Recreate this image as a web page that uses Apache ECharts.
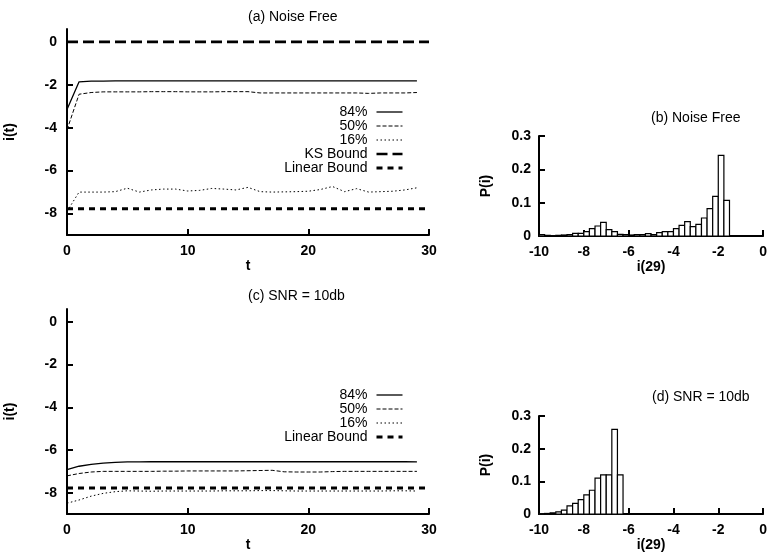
<!DOCTYPE html>
<html>
<head>
<meta charset="utf-8">
<script src="https://cdn.jsdelivr.net/npm/echarts@6/dist/echarts.min.js"></script>
<style>html,body{margin:0;padding:0;background:#fff}#c{width:770px;height:553px}</style>
</head>
<body>
<div id="c"></div>
<script>
// time steps
var t = [0,1,2,3,4,5,6,7,8,9,10,11,12,13,14,15,16,17,18,19,20,21,22,23,24,25,26,27,28,29];
var tBound = [0, 30];

// (a) Noise Free
var a84 = [-3.15,-1.86,-1.83,-1.83,-1.82,-1.82,-1.82,-1.82,-1.82,-1.82,-1.82,-1.82,-1.82,-1.82,-1.82,-1.82,-1.82,-1.82,-1.82,-1.82,-1.82,-1.82,-1.82,-1.82,-1.82,-1.82,-1.82,-1.82,-1.82,-1.82];
var a50 = [-4.1,-2.44,-2.36,-2.33,-2.33,-2.33,-2.33,-2.32,-2.32,-2.32,-2.33,-2.33,-2.33,-2.32,-2.32,-2.32,-2.38,-2.38,-2.38,-2.38,-2.38,-2.38,-2.38,-2.38,-2.38,-2.4,-2.38,-2.38,-2.38,-2.36];
var a16 = [-7.9,-7.0,-7.0,-7.0,-6.98,-6.82,-7.0,-6.9,-6.86,-6.86,-6.95,-6.92,-6.83,-6.86,-6.9,-6.78,-6.98,-7.0,-6.99,-6.98,-6.96,-6.88,-6.74,-6.98,-6.84,-7.0,-6.98,-6.96,-6.9,-6.8];
var aKS = [0, 0];
var aLin = [-7.78, -7.78];

// (c) SNR = 10db
var c84 = [-6.92,-6.76,-6.67,-6.61,-6.58,-6.56,-6.56,-6.55,-6.55,-6.55,-6.55,-6.55,-6.55,-6.55,-6.55,-6.55,-6.55,-6.55,-6.55,-6.55,-6.55,-6.55,-6.55,-6.55,-6.55,-6.55,-6.55,-6.55,-6.55,-6.56];
var c50 = [-7.21,-7.1,-7.03,-7.0,-7.0,-7.0,-7.0,-7.0,-6.99,-6.99,-6.98,-6.98,-6.98,-6.98,-6.98,-6.97,-6.96,-6.95,-7.02,-7.03,-7.03,-7.03,-7.01,-7.0,-7.0,-7.0,-7.0,-7.0,-7.0,-7.0];
var c16 = [-8.49,-8.34,-8.16,-8.03,-7.95,-7.91,-7.92,-7.93,-7.92,-7.92,-7.92,-7.92,-7.92,-7.91,-7.91,-7.91,-7.9,-7.9,-7.91,-7.92,-7.92,-7.92,-7.92,-7.92,-7.92,-7.92,-7.92,-7.91,-7.91,-7.92];
var cLin = [-7.78, -7.78];

var yTicks = [-8,-6,-4,-2,0];

// histograms: bin starts (width 0.25)
var binStart = [-10,-9.75,-9.5,-9.25,-9,-8.75,-8.5,-8.25,-8,-7.75,-7.5,-7.25,-7,-6.75,-6.5,-6.25,-6,-5.75,-5.5,-5.25,-5,-4.75,-4.5,-4.25,-4,-3.75,-3.5,-3.25,-3,-2.75,-2.5,-2.25,-2,-1.75];
var binWidth = 0.25;
var pB = [0.004,0.002,0.001,0.002,0.003,0.004,0.008,0.008,0.013,0.022,0.030,0.041,0.019,0.013,0.005,0.004,0.003,0.004,0.004,0.007,0.004,0.010,0.013,0.013,0.022,0.032,0.043,0.028,0.035,0.054,0.082,0.119,0.242,0.107];
var pD = [0.001,0.002,0.004,0.007,0.012,0.025,0.033,0.044,0.059,0.073,0.110,0.120,0.120,0.259,0.120,0,0,0,0,0,0,0,0,0,0,0,0,0,0,0,0,0,0,0];

function zip(xs, ys){ return ys.map(function(v,i){ return [xs[i], v]; }); }
function bins(vals){ var out=[]; vals.forEach(function(v,i){ if(v>0) out.push([binStart[i], binStart[i]+binWidth, v]); }); return out; }

var FONT = 'Liberation Sans, Arial, Helvetica, sans-serif';
var lab = {color:'#000', fontFamily:FONT, fontSize:14, fontWeight:'bold'};

function lineAxisX(gi){
  return {gridIndex:gi, type:'value', min:0, max:30, interval:10,
    name:'t', nameLocation:'middle', nameGap:22, nameTextStyle:{color:'#000',fontFamily:FONT,fontSize:14,fontWeight:'bold'},
    axisLine:{onZero:false, lineStyle:{color:'#000', width:2}},
    axisTick:{inside:true, length:6, lineStyle:{color:'#000', width:2}},
    axisLabel:Object.assign({margin:9}, lab), splitLine:{show:false}};
}
function lineAxisY(gi){
  return {gridIndex:gi, type:'value', min:-9, max:0.6,
    name:'i(t)', nameLocation:'middle', nameGap:50, nameTextStyle:{color:'#000',fontFamily:FONT,fontSize:14,fontWeight:'bold'},
    axisLine:{onZero:false, lineStyle:{color:'#000', width:2}},
    axisTick:{inside:true, length:6, customValues:yTicks, lineStyle:{color:'#000', width:2}},
    axisLabel:Object.assign({margin:10, customValues:yTicks}, lab), splitLine:{show:false}};
}
function histAxisX(gi){
  return {gridIndex:gi, type:'value', min:-10, max:0, interval:2,
    name:'i(29)', nameLocation:'middle', nameGap:22, nameTextStyle:{color:'#000',fontFamily:FONT,fontSize:14,fontWeight:'bold'},
    axisLine:{onZero:false, lineStyle:{color:'#000', width:2}},
    axisTick:{inside:true, length:6, lineStyle:{color:'#000', width:2}},
    axisLabel:Object.assign({margin:9}, lab), splitLine:{show:false}};
}
function histAxisY(gi){
  return {gridIndex:gi, type:'value', min:0, max:0.3, interval:0.1,
    name:'P(i)', nameLocation:'middle', nameGap:46, nameTextStyle:{color:'#000',fontFamily:FONT,fontSize:14,fontWeight:'bold'},
    axisLine:{onZero:false, lineStyle:{color:'#000', width:2}},
    axisTick:{inside:true, length:6, lineStyle:{color:'#000', width:2}},
    axisLabel:Object.assign({margin:8}, lab), splitLine:{show:false}};
}

var S84 = {color:'#000', width:1.3, type:'solid'};
var S50 = {color:'#000', width:1, type:[4,2]};
var S16 = {color:'#000', width:1, type:[1.5,2.5]};
var SKS = {color:'#000', width:2.7, type:[11,5]};
var SLin = {color:'#000', width:3, type:[6,5]};
var styleByName = {'84%':S84, '50%':S50, '16%':S16, 'KS Bound':SKS, 'Linear Bound':SLin};

function line(name, xi, data, style){
  return {name:name, type:'line', xAxisIndex:xi, yAxisIndex:xi, data:data, showSymbol:false, symbol:'none',
    lineStyle:style, itemStyle:{color:'#000'}, silent:true, animation:false, z:3};
}
function hist(xi, data){
  return {type:'custom', xAxisIndex:xi, yAxisIndex:xi, data:data, encode:{x:[0,1], y:2}, animation:false, silent:true,
    renderItem:function(params, api){
      var p0 = api.coord([api.value(0), api.value(2)]);
      var p1 = api.coord([api.value(1), 0]);
      return {type:'rect', shape:{x:p0[0], y:p0[1], width:p1[0]-p0[0], height:p1[1]-p0[1]},
        style:{fill:'#fff', stroke:'#000', lineWidth:1.2}};
    }};
}

var legText = {color:'#000', fontFamily:FONT, fontSize:14, padding:[0,4,0,0]};
var legItem = {opacity:0, borderWidth:0, color:'rgba(0,0,0,0)'};
function legData(names){
  return names.map(function(n){ var s = styleByName[n];
    return {name:n, lineStyle:{color:'#000', width:s.width, type:s.type}, itemStyle:legItem}; });
}

var option = {
  backgroundColor:'#fff',
  animation:false,
  grid:[
    {left:67, top:29, width:362, height:206},
    {left:539, top:136, width:229, height:100},
    {left:67, top:309, width:362, height:207},
    {left:539, top:416, width:229, height:101}
  ],
  xAxis:[lineAxisX(0), histAxisX(1), lineAxisX(2), histAxisX(3)],
  yAxis:[lineAxisY(0), histAxisY(1), lineAxisY(2), histAxisY(3)],
  legend:[
    {orient:'vertical', right:361, top:100, align:'right', itemWidth:26, itemHeight:14, itemGap:0,
     itemStyle:legItem, textStyle:legText, selectedMode:false, data:legData(['84%','50%','16%','KS Bound','Linear Bound'])},
    {orient:'vertical', right:361, top:383, align:'right', itemWidth:26, itemHeight:13, itemGap:0,
     itemStyle:legItem, textStyle:legText, selectedMode:false, data:legData(['84%','50%','16%','Linear Bound'])}
  ],
  graphic:[
    {type:'text', left:248, top:10, style:{text:'(a) Noise Free', fill:'#000', font:'14px '+FONT, textAlign:'center'}},
    {type:'text', left:651, top:111, style:{text:'(b) Noise Free', fill:'#000', font:'14px '+FONT, textAlign:'center'}},
    {type:'text', left:248, top:289, style:{text:'(c) SNR = 10db', fill:'#000', font:'14px '+FONT, textAlign:'center'}},
    {type:'text', left:652, top:390, style:{text:'(d) SNR = 10db', fill:'#000', font:'14px '+FONT, textAlign:'center'}}
  ],
  series:[
    line('84%', 0, zip(t, a84), S84),
    line('50%', 0, zip(t, a50), S50),
    line('16%', 0, zip(t, a16), S16),
    line('KS Bound', 0, zip(tBound, aKS), SKS),
    line('Linear Bound', 0, zip(tBound, aLin), SLin),
    hist(1, bins(pB)),
    line('84%', 2, zip(t, c84), S84),
    line('50%', 2, zip(t, c50), S50),
    line('16%', 2, zip(t, c16), S16),
    line('Linear Bound', 2, zip(tBound, cLin), SLin),
    hist(3, bins(pD))
  ]
};
var chart = echarts.init(document.getElementById('c'), null, {renderer:'canvas'});
chart.setOption(option);
</script>
</body>
</html>
